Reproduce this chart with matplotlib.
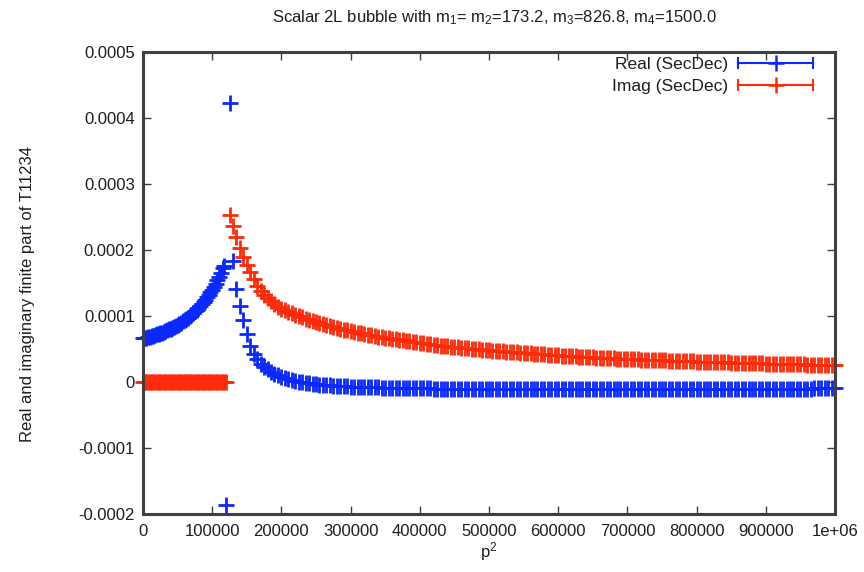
import numpy as np
import matplotlib
matplotlib.use("Agg")
from matplotlib import pyplot as plt
from matplotlib.lines import Line2D
from matplotlib.legend_handler import HandlerLine2D
from matplotlib.ticker import FuncFormatter, MultipleLocator

plt.rcParams['font.family'] = ['Liberation Sans', 'DejaVu Sans']
plt.rcParams['mathtext.default'] = 'regular'

# p^2 scan points: 2500 apart below threshold, 5000 apart from 120000 on
p2 = np.concatenate([np.arange(0, 120000, 2500), np.arange(120000, 1000001, 5000)])

# real part of T11234, in units of 1e-5
real_e5 = [
    # 0 .. 117500
    6.6, 6.65, 6.7, 6.78, 6.85, 6.92, 7.0, 7.1, 7.2, 7.3,
    7.4, 7.5, 7.6, 7.72, 7.85, 7.97, 8.1, 8.22, 8.35, 8.5,
    8.65, 8.82, 9.0, 9.17, 9.35, 9.55, 9.75, 9.97, 10.2, 10.45,
    10.7, 10.97, 11.25, 11.55, 11.85, 12.17, 12.5, 12.85, 13.2, 13.6,
    14.0, 14.45, 14.9, 15.4, 15.9, 16.5, 17.2, 17.6,
    # 120000, 125000 (threshold)
    -18.6, 42.2,
    # 130000 .. 175000
    18.3, 14.1, 11.5, 9.4, 7.2, 5.4, 4.3, 3.5, 2.8, 2.3,
    # 180000 .. 350000
    1.9, 1.5, 1.2, 1.0, 0.8, 0.6, 0.45, 0.3, 0.15, 0.05,
    -0.05, -0.13, -0.2, -0.27, -0.33, -0.38, -0.43, -0.47, -0.51, -0.55,
    -0.58, -0.61, -0.64, -0.66, -0.69, -0.71, -0.73, -0.75, -0.77, -0.79,
    -0.8, -0.82, -0.83, -0.85, -0.86,
    # 355000 .. 400000
    -0.87, -0.88, -0.89, -0.9, -0.91, -0.92, -0.93, -0.94, -0.95, -0.96,
    # 405000 .. 500000
    -0.97, -0.97, -0.98, -0.99, -0.99, -1.0, -1.0, -1.01, -1.02, -1.02,
    -1.03, -1.03, -1.04, -1.04, -1.05, -1.05, -1.06, -1.06, -1.07, -1.07,
    # 505000 .. 600000
    -1.08, -1.08, -1.09, -1.09, -1.09, -1.1, -1.1, -1.1, -1.11, -1.11,
    -1.11, -1.12, -1.12, -1.12, -1.12, -1.13, -1.13, -1.13, -1.13, -1.13,
    # 605000 .. 700000
    -1.13, -1.13, -1.13, -1.13, -1.13, -1.13, -1.12, -1.12, -1.12, -1.12,
    -1.12, -1.12, -1.11, -1.11, -1.11, -1.11, -1.11, -1.1, -1.1, -1.1,
    # 705000 .. 800000
    -1.1, -1.1, -1.09, -1.09, -1.09, -1.09, -1.08, -1.08, -1.08, -1.08,
    -1.07, -1.07, -1.07, -1.07, -1.06, -1.06, -1.06, -1.06, -1.05, -1.05,
    # 805000 .. 900000
    -1.05, -1.05, -1.04, -1.04, -1.04, -1.04, -1.03, -1.03, -1.03, -1.03,
    -1.03, -1.02, -1.02, -1.02, -1.02, -1.02, -1.01, -1.01, -1.01, -1.01,
    # 905000 .. 1000000
    -1.01, -1.01, -1.0, -1.0, -1.0, -1.0, -1.0, -0.99, -0.99, -0.99,
    -0.99, -0.99, -0.99, -0.98, -0.98, -0.98, -0.98, -0.98, -0.98, -0.98,
]

# imaginary part of T11234, in units of 1e-5
imag_e5 = [
    # 0 .. 117500, below threshold
    0, 0, 0, 0, 0, 0, 0, 0, 0, 0,
    0, 0, 0, 0, 0, 0, 0, 0, 0, 0,
    0, 0, 0, 0, 0, 0, 0, 0, 0, 0,
    0, 0, 0, 0, 0, 0, 0, 0, 0, 0,
    0, 0, 0, 0, 0, 0, 0, 0,
    # 120000
    0,
    # 125000 .. 200000
    25.3, 23.6, 21.9, 20.3, 19.0, 17.8, 16.6, 15.6, 14.6, 13.8,
    13.2, 12.7, 12.2, 11.8, 11.4, 11.1,
    # 205000 .. 300000
    10.86, 10.62, 10.40, 10.19, 9.98, 9.79, 9.60, 9.42, 9.25, 9.08,
    8.92, 8.77, 8.62, 8.47, 8.33, 8.20, 8.07, 7.95, 7.83, 7.70,
    # 305000 .. 400000
    7.59, 7.48, 7.37, 7.27, 7.17, 7.07, 6.98, 6.89, 6.80, 6.71,
    6.63, 6.55, 6.47, 6.38, 6.30, 6.23, 6.16, 6.09, 6.02, 5.95,
    # 405000 .. 500000
    5.88, 5.81, 5.74, 5.67, 5.60, 5.53, 5.47, 5.41, 5.35, 5.29,
    5.24, 5.19, 5.14, 5.09, 5.04, 4.99, 4.94, 4.89, 4.85, 4.81,
    # 505000 .. 600000
    4.77, 4.73, 4.69, 4.65, 4.61, 4.57, 4.53, 4.49, 4.45, 4.41,
    4.37, 4.33, 4.29, 4.25, 4.21, 4.18, 4.14, 4.10, 4.07, 4.04,
    # 605000 .. 700000
    4.00, 3.97, 3.94, 3.91, 3.88, 3.85, 3.82, 3.79, 3.76, 3.73,
    3.70, 3.67, 3.65, 3.62, 3.60, 3.57, 3.55, 3.53, 3.50, 3.48,
    # 705000 .. 800000
    3.46, 3.44, 3.42, 3.40, 3.38, 3.36, 3.34, 3.32, 3.30, 3.28,
    3.26, 3.24, 3.22, 3.20, 3.19, 3.17, 3.15, 3.13, 3.12, 3.10,
    # 805000 .. 900000
    3.08, 3.07, 3.05, 3.04, 3.02, 3.01, 2.99, 2.98, 2.96, 2.95,
    2.93, 2.92, 2.90, 2.89, 2.87, 2.86, 2.85, 2.83, 2.82, 2.80,
    # 905000 .. 1000000
    2.79, 2.77, 2.76, 2.75, 2.73, 2.72, 2.71, 2.70, 2.68, 2.67,
    2.66, 2.65, 2.63, 2.62, 2.61, 2.60, 2.59, 2.58, 2.57, 2.56,
]

assert len(real_e5) == len(p2) and len(imag_e5) == len(p2)

real = np.array(real_e5) * 1e-5
imag = np.array(imag_e5) * 1e-5

BLUE = '#0a28ff'
RED = '#ff2a0a'
FRAME = '#404040'
TEXT = '#1e1e1e'

fig = plt.figure(figsize=(8.64, 5.72), dpi=100)
W, H = 864, 572
ax = fig.add_axes([143 / W, 1 - 514 / H, (835 - 143) / W, (514 - 52) / H])

ax.plot(p2, real, ls='none', marker='+', ms=11, mew=2, color=BLUE, clip_on=False)
ax.plot(p2, imag, ls='none', marker='+', ms=11, mew=2, color=RED, clip_on=False)

ax.set_xlim(0, 1e6)
ax.set_ylim(-0.0002, 0.0005)
ax.xaxis.set_major_locator(MultipleLocator(100000))
ax.yaxis.set_major_locator(MultipleLocator(0.0001))
fmt = FuncFormatter(lambda v, pos: '%g' % round(v, 10))
ax.xaxis.set_major_formatter(fmt)
ax.yaxis.set_major_formatter(fmt)

ax.tick_params(direction='in', length=6, width=1, color=FRAME, labelsize=12,
               labelcolor=TEXT, top=True, right=True)
ax.tick_params(axis='x', pad=7)
ax.tick_params(axis='y', pad=6)
for s in ax.spines.values():
    s.set_linewidth(2.2)
    s.set_color(FRAME)

fig.text(494 / W, 1 - 18 / H,
         'Scalar 2L bubble with m$_1$= m$_2$=173.2, m$_3$=826.8, m$_4$=1500.0',
         ha='center', va='center', fontsize=12, color=TEXT)
fig.text(28 / W, 1 - 294 / H, 'Real and imaginary finite part of T11234',
         rotation=90, ha='center', va='center', fontsize=12, color=TEXT)
fig.text(489 / W, 1 - 552 / H, 'p$^2$', ha='center', va='center',
         fontsize=12, color=TEXT)

# legend samples: error-bar line with caps plus a cross in the middle
handles = []
hmap = {}
for c in (BLUE, RED):
    bar = Line2D([], [], color=c, lw=1.5, marker='|', ms=8, mew=1.5)
    cross = Line2D([], [], color=c, ls='none', marker='+', ms=11, mew=1.8)
    hmap[bar] = HandlerLine2D(numpoints=2, marker_pad=0)
    hmap[cross] = HandlerLine2D(numpoints=1)
    handles.append((bar, cross))

fig.legend(handles, ['Real (SecDec)', 'Imag (SecDec)'], handler_map=hmap,
           loc='upper right', bbox_to_anchor=(813 / W, 1 - 57 / H),
           frameon=False, markerfirst=False, fontsize=12.5, handlelength=4.3,
           handletextpad=0.6, labelspacing=0.4, borderpad=0, borderaxespad=0,
           labelcolor=TEXT)

fig.savefig('out.png', dpi=100)
